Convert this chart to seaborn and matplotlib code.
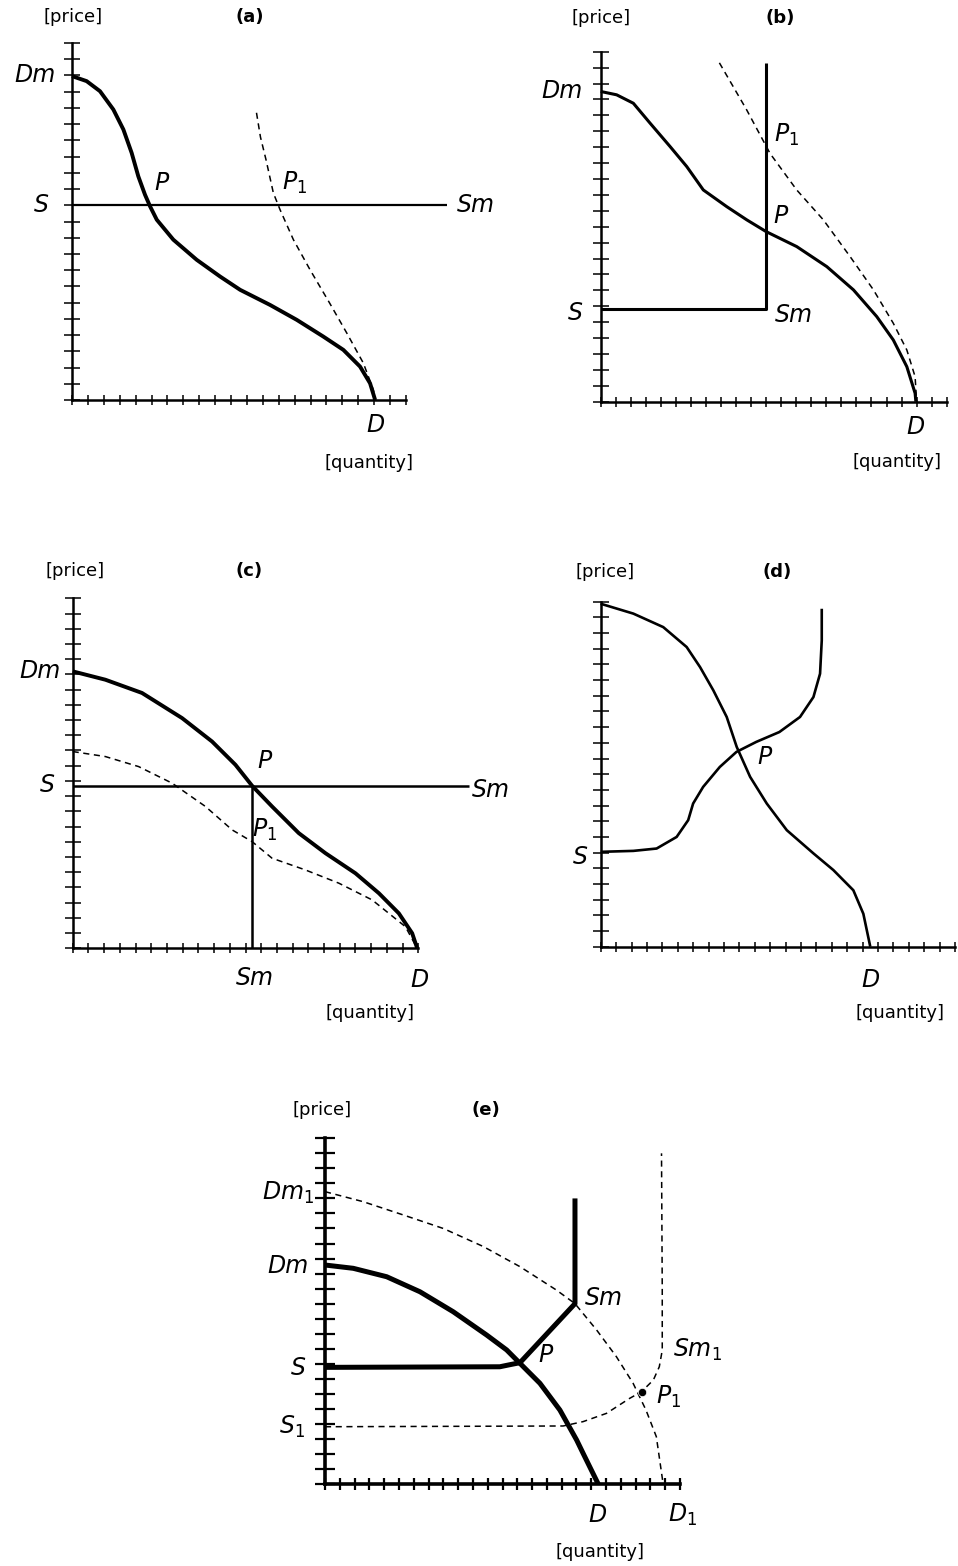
import numpy as np
import pandas as pd
import seaborn as sns
import matplotlib.pyplot as plt

W, H = 958, 1566

# ---- panel (a) ----
a_dem_x = [0, 0.92, 1.76, 2.6, 3.23, 3.75, 4.17, 4.59, 4.91, 5.33, 6.37, 7.84, 9.31, 10.57, 12.45, 14.13, 15.8, 17.06, 18.11, 18.74, 19.06]
a_dem_y = [19.96, 19.65, 19.03, 17.9, 16.67, 15.23, 13.78, 12.65, 11.93, 11.11, 9.88, 8.64, 7.61, 6.79, 5.86, 4.94, 3.91, 3.09, 2.06, 1.03, 0.0]
a_dash_x = [11.6, 11.85, 12.2, 12.66, 13.08, 13.92, 14.97, 16.2, 17.28, 18.32, 18.95, 19.06]
a_dash_y = [17.7, 16.2, 14.8, 12.76, 11.73, 9.88, 8.02, 5.97, 4.12, 2.27, 0.62, 0.0]
a_sup_x = [0, 23.6]
a_sup_y = [12, 12]

# ---- panel (b) ----
b_dem_x = [0, 1.06, 2.17, 3.28, 4.61, 5.72, 6.82, 8.38, 9.71, 11.0, 13.03, 15.03, 16.8, 18.35, 19.45, 20.35, 20.9, 20.95]
b_dem_y = [19.5, 19.29, 18.76, 17.51, 16.04, 14.78, 13.31, 12.26, 11.43, 10.69, 9.75, 8.49, 7.03, 5.35, 3.88, 2.2, 0.53, 0.0]
b_dash_x = [7.89, 9.7, 11.26, 13.03, 14.8, 16.58, 18.13, 19.45, 20.35, 20.9, 21.0]
b_dash_y = [21.3, 18.35, 15.6, 13.31, 11.43, 9.12, 7.03, 4.93, 3.25, 1.57, 0.0]
b_sup_x = [0, 11.0, 11.0]
b_sup_y = [5.8, 5.8, 21.3]

# ---- panel (c) ----
c_dem_x = [0, 2.08, 4.41, 6.96, 8.87, 10.36, 11.42, 12.69, 14.39, 16.09, 18.0, 19.49, 20.76, 21.61, 21.93]
c_dem_y = [18.2, 17.65, 16.78, 15.13, 13.59, 12.06, 10.68, 9.32, 7.57, 6.25, 4.93, 3.62, 2.3, 0.99, 0.0]
c_dash_x = [0, 2.08, 4.2, 6.33, 8.45, 10.15, 11.42, 12.69, 14.81, 16.94, 19.06, 21.18, 21.93]
c_dash_y = [12.93, 12.6, 11.94, 10.85, 9.32, 7.78, 7.01, 5.92, 5.15, 4.28, 3.18, 1.42, 0.0]
c_sup_x = [0, 25.2]
c_sup_y = [10.68, 10.68]
c_lim_x = [11.42, 11.42]
c_lim_y = [0, 10.68]

# ---- panel (d) ----
d_dem_x = [0, 2.12, 4.06, 5.58, 6.45, 7.31, 8.18, 8.83, 9.7, 10.78, 12.08, 13.81, 15.1, 16.4, 17.05, 17.5]
d_dem_y = [21.87, 21.24, 20.38, 19.11, 17.83, 16.35, 14.65, 12.74, 10.83, 9.13, 7.43, 5.95, 4.89, 3.6, 2.1, 0.0]
d_sup_x = [0, 2.12, 3.63, 4.93, 5.68, 6.0, 6.65, 7.73, 8.81, 10.1, 11.6, 12.94, 13.81, 14.24, 14.35, 14.35]
d_sup_y = [6.05, 6.11, 6.26, 7.0, 8.07, 9.13, 10.19, 11.46, 12.42, 13.06, 13.69, 14.65, 15.92, 17.41, 19.53, 21.55]

# ---- panel (e) ----
e_dem_x = [0, 1.91, 4.17, 6.42, 8.67, 10.93, 12.28, 13.18, 14.53, 15.88, 17.01, 17.45, 18.47]
e_dem_y = [14.57, 14.35, 13.79, 12.79, 11.46, 9.91, 8.92, 8.03, 6.7, 4.92, 2.93, 2.04, 0.0]
e_sup_x = [0, 11.82, 12.61, 13.18, 16.9, 16.9]
e_sup_y = [7.76, 7.8, 7.96, 8.07, 12.0, 19.0]
e_dem1_x = [0, 2.59, 5.29, 8.0, 10.7, 13.18, 15.65, 16.9, 18.36, 19.7, 20.83, 21.7, 22.4, 22.86]
e_dem1_y = [19.45, 18.78, 17.9, 17.0, 15.8, 14.46, 12.9, 12.0, 10.25, 8.47, 6.7, 4.92, 3.15, 0.0]
e_sup1_x = [0, 16.1, 17.45, 19.03, 20.6, 21.4, 22.2, 22.6, 22.8, 22.8, 22.75]
e_sup1_y = [3.81, 3.86, 4.15, 4.7, 5.7, 6.14, 6.92, 7.8, 8.9, 12.9, 22.0]
e_eq1_x = [21.4]
e_eq1_y = [6.14]

sns.set_style("white")
plt.rcParams['font.family'] = ['DejaVu Sans']
plt.rcParams['text.color'] = 'black'

fig = plt.figure(figsize=(W / 100, H / 100), dpi=100)


def make_axes(x0, y0, x1, y1):
    ax = fig.add_axes([x0 / W, 1 - y0 / H, (x1 - x0) / W, (y0 - y1) / H])
    ax.patch.set_alpha(0)
    return ax


def finish(ax, nx, ny, lw=1.8, tw=1.1, tl=7, yl=12):
    ax.set_xlim(0, nx)
    ax.set_ylim(0, ny)
    ax.set_xticks(range(nx + 1))
    ax.set_yticks(range(ny + 1))
    ax.set_xticklabels([])
    ax.set_yticklabels([])
    ax.set_xlabel("")
    ax.set_ylabel("")
    for s in ["top", "right"]:
        ax.spines[s].set_visible(False)
    for s in ["left", "bottom"]:
        ax.spines[s].set_linewidth(lw)
        ax.spines[s].set_color("black")
    ax.tick_params(axis="x", bottom=True, direction="inout", length=tl, width=tw, color="black")
    ax.tick_params(axis="y", left=True, direction="inout", length=yl, width=tw, color="black")


def curve(ax, x, y, lw=2.2, dashed=False):
    ls = (0, (4, 3)) if dashed else "-"
    sns.lineplot(x=x, y=y, ax=ax, color="black", linewidth=lw, estimator=None,
                 sort=False, linestyle=ls, clip_on=False, solid_joinstyle="round",
                 solid_capstyle="butt")


def lab(ax, x, y, s, ha="center", size=17):
    ax.text(x, y, s, fontsize=size, fontstyle="italic", ha=ha, va="center", color="black")


def head(ax, xp, xl, y, letter):
    ax.text(xp, y, "[price]", fontsize=13, ha="center", va="center", color="black")
    ax.text(xl, y, letter, fontsize=13, ha="center", va="center", fontweight="bold", color="black")


def foot(ax, x, y):
    ax.text(x, y, "[quantity]", fontsize=13, ha="center", va="center", color="black")


# (a)
ax = make_axes(72, 400, 406, 43)
curve(ax, a_dem_x, a_dem_y, lw=2.8)
curve(ax, a_dash_x, a_dash_y, lw=1.1, dashed=True)
curve(ax, a_sup_x, a_sup_y, lw=1.6)
finish(ax, 21, 22)
head(ax, 0.06, 11.2, 23.6, "(a)")
lab(ax, -1.0, 20, "Dm", ha="right")
lab(ax, -1.9, 12, "S")
lab(ax, 5.6, 13.4, "P")
lab(ax, 14.0, 13.4, "P$_1$")
lab(ax, 24.2, 12, "Sm", ha="left")
lab(ax, 19.05, -1.55, "D")
foot(ax, 18.7, -3.9)

# (b)
ax = make_axes(600.7, 401.7, 946.7, 51.7)
curve(ax, b_dem_x, b_dem_y, lw=2.2)
curve(ax, b_dash_x, b_dash_y, lw=1.1, dashed=True)
curve(ax, b_sup_x, b_sup_y, lw=2.2)
finish(ax, 23, 22)
head(ax, 0, 11.9, 24.1, "(b)")
lab(ax, -1.2, 19.5, "Dm", ha="right")
lab(ax, -1.7, 5.6, "S")
lab(ax, 11.5, 16.8, "P$_1$", ha="left")
lab(ax, 11.5, 11.7, "P", ha="left")
lab(ax, 11.6, 5.45, "Sm", ha="left")
lab(ax, 20.9, -1.6, "D")
foot(ax, 19.7, -3.8)

# (c)
ax = make_axes(72.7, 948.3, 418.3, 598.3)
curve(ax, c_dem_x, c_dem_y, lw=2.8)
curve(ax, c_dash_x, c_dash_y, lw=1.1, dashed=True)
curve(ax, c_sup_x, c_sup_y, lw=1.8)
curve(ax, c_lim_x, c_lim_y, lw=1.8)
finish(ax, 22, 23)
head(ax, 0.15, 11.2, 24.8, "(c)")
lab(ax, -0.8, 18.2, "Dm", ha="right")
lab(ax, -1.6, 10.7, "S")
lab(ax, 12.2, 12.3, "P")
lab(ax, 25.4, 10.4, "Sm", ha="left")
lab(ax, 12.2, 7.8, "P$_1$")
lab(ax, 11.6, -1.95, "Sm")
lab(ax, 22.1, -2.1, "D")
foot(ax, 18.9, -4.25)

# (d)
ax = make_axes(600.7, 946.7, 955, 601.7)
curve(ax, d_dem_x, d_dem_y, lw=1.9)
curve(ax, d_sup_x, d_sup_y, lw=1.9)
finish(ax, 23, 22)
head(ax, 0.3, 11.45, 23.9, "(d)")
lab(ax, -1.35, 5.7, "S")
lab(ax, 10.6, 12.1, "P")
lab(ax, 17.5, -2.1, "D")
foot(ax, 19.4, -4.2)

# (e)
ax = make_axes(325, 1484, 680, 1138.3)
curve(ax, e_dem1_x, e_dem1_y, lw=1.1, dashed=True)
curve(ax, e_sup1_x, e_sup1_y, lw=1.1, dashed=True)
curve(ax, e_dem_x, e_dem_y, lw=3.6)
curve(ax, e_sup_x, e_sup_y, lw=3.6)
sns.scatterplot(x=e_eq1_x, y=e_eq1_y, ax=ax, color="black", s=35, zorder=5)
finish(ax, 24, 23, lw=2.6, tw=1.6, tl=8, yl=14)
head(ax, -0.2, 10.9, 24.9, "(e)")
lab(ax, -0.7, 19.4, "Dm$_1$", ha="right")
lab(ax, -1.1, 14.5, "Dm", ha="right")
lab(ax, -1.8, 7.7, "S")
lab(ax, -2.2, 3.8, "S$_1$")
lab(ax, 17.6, 12.4, "Sm", ha="left")
lab(ax, 14.4, 8.6, "P", ha="left")
lab(ax, 23.5, 8.9, "Sm$_1$", ha="left")
lab(ax, 22.4, 5.8, "P$_1$", ha="left")
lab(ax, 18.45, -2.05, "D")
lab(ax, 24.2, -2.05, "D$_1$")
foot(ax, 18.6, -4.5)

fig.savefig("out.png", dpi=100)
